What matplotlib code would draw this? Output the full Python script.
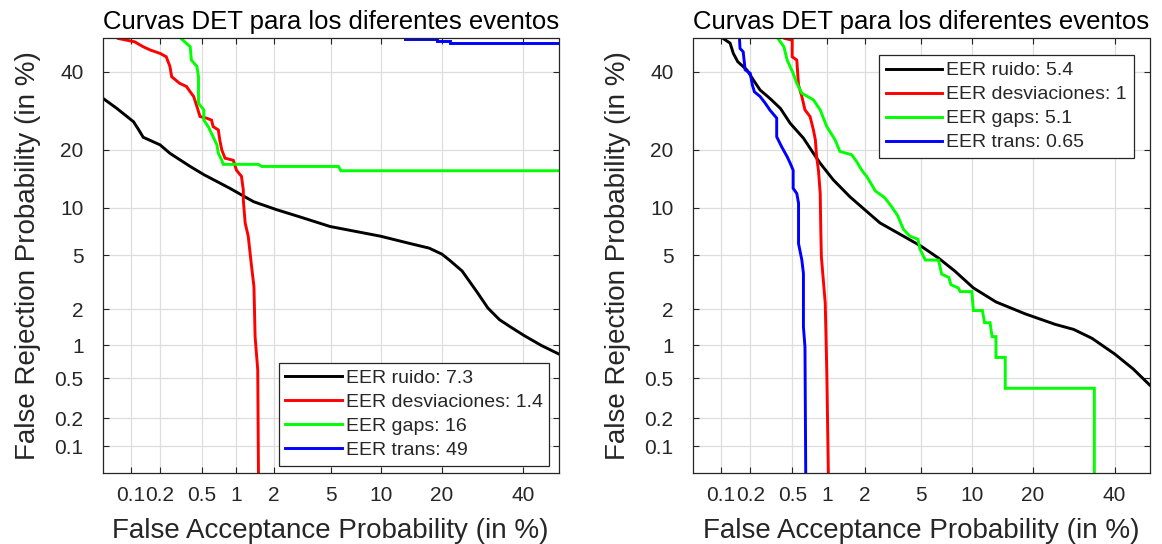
import math
import numpy as np
import matplotlib
matplotlib.use("Agg")
import matplotlib.pyplot as plt
from matplotlib.ticker import FixedLocator, FixedFormatter, NullLocator

plt.rcParams['font.family'] = ['Liberation Sans', 'DejaVu Sans']

# ---------------- data (percent) ----------------
tick_values = [0.1, 0.2, 0.5, 1, 2, 5, 10, 20, 40]
tick_labels = ['0.1', '0.2', '0.5', '1', '2', '5', '10', '20', '40']
axis_limits = [0.05, 50]

title_text = 'Curvas DET para los diferentes eventos'
xlabel_text = 'False Acceptance Probability (in %)'
ylabel_text = 'False Rejection Probability (in %)'

# Left panel
L_ruido_fa = [0.05, 0.071, 0.107, 0.12, 0.135, 0.2, 0.25, 0.39, 0.52, 0.88, 1.38, 2.1,
              3.1, 4.95, 9.9, 14.2, 17.5, 20.0, 21.7, 24.3, 27.7, 30.5, 33.5, 36.4,
              40.1, 45.0, 50]
L_ruido_fr = [32.5, 29.8, 26.4, 24.6, 22.7, 21.0, 19.2, 16.6, 15.1, 12.8, 10.8, 9.7,
              8.8, 7.7, 6.7, 6.0, 5.6, 5.1, 4.6, 3.9, 2.76, 2.05, 1.65, 1.44,
              1.22, 1.0, 0.84]

L_desv_fa = [0.074, 0.11, 0.135, 0.16, 0.2, 0.23, 0.25, 0.26, 0.31, 0.36, 0.39, 0.42,
             0.45, 0.48, 0.55, 0.61, 0.63, 0.70, 0.72, 0.75, 0.80, 0.94, 1.0, 1.1,
             1.14, 1.14, 1.18, 1.25, 1.33, 1.39, 1.42, 1.49, 1.51]
L_desv_fr = [50, 49, 47.5, 46.5, 45.5, 44.5, 41.6, 38.6, 36.7, 35.8, 34.3, 33.0,
             30.3, 27.7, 27.3, 26.8, 25.2, 24.4, 22.1, 19.9, 18.2, 17.8, 15.9, 14.8,
             12.5, 11.0, 8.1, 6.7, 4.2, 3.0, 1.19, 0.6, 0.05]

L_gaps_fa = [0.32, 0.39, 0.40, 0.45, 0.465, 0.465, 0.52, 0.52, 0.57, 0.63, 0.68, 0.70,
             0.75, 0.77, 1.51, 1.6, 5.6, 5.8, 50]
L_gaps_fr = [50, 47.5, 43.5, 41.6, 38.6, 31.2, 29.4, 26.8, 25.2, 22.8, 21.0, 19.2,
             17.8, 17.0, 17.0, 16.6, 16.6, 15.8, 15.8]

L_trans_fa = [13.4, 19.0, 19.0, 21.7, 21.7, 50]
L_trans_fr = [49.9, 49.9, 49.2, 49.2, 48.7, 48.7]

# Right panel
R_ruido_fa = [0.106, 0.125, 0.135, 0.15, 0.185, 0.22, 0.25, 0.31, 0.39, 0.48, 0.63, 0.77,
              0.88, 1.13, 1.54, 2.07, 2.6, 3.8, 5.0, 6.4, 8.0, 10.2, 13.4, 18.5, 24.8,
              29.2, 33.9, 40, 45.3, 50]
R_ruido_fr = [50, 48.6, 45.5, 43.0, 40.6, 37.2, 34.8, 32.5, 29.8, 26.0, 22.5, 19.2,
              17.2, 14.2, 11.5, 9.5, 8.1, 6.7, 5.75, 4.8, 3.9, 2.93, 2.29, 1.84, 1.51,
              1.37, 1.15, 0.84, 0.61, 0.43]

R_desv_fa = [0.43, 0.50, 0.50, 0.55, 0.57, 0.61, 0.65, 0.72, 0.77, 0.80, 0.82, 0.85,
             0.88, 0.89, 0.90, 0.97, 1.0, 1.03]
R_desv_fr = [50, 49.5, 44.5, 43.5, 36.2, 33.0, 29.4, 27.7, 24.4, 22.1, 18.5, 15.9,
             12.0, 7.3, 4.9, 2.24, 0.56, 0.05]

R_gaps_fa = [0.37, 0.42, 0.45, 0.51, 0.55, 0.61, 0.77, 0.88, 1.0, 1.17, 1.28, 1.59, 1.74,
             1.9, 2.07, 2.3, 2.4, 2.8, 3.07, 3.46, 3.8, 4.2, 4.75, 4.9, 5.3, 6.4, 6.7,
             7.4, 7.6, 8.4, 8.6, 10.0, 10.2, 11.4, 11.7, 12.5, 12.8, 13.4, 13.4, 14.9,
             14.9, 34.5, 34.5]
R_gaps_fr = [50, 47.5, 43.5, 39.6, 36.7, 33.9, 32.1, 29.4, 25.2, 22.1, 19.6, 18.9, 17.5,
             15.9, 14.8, 13.1, 12.4, 11.4, 10.4, 9.0, 7.4, 6.7, 6.4, 5.5, 4.65, 4.65, 3.7,
             3.5, 3.1, 2.93, 2.75, 2.75, 1.96, 1.96, 1.56, 1.56, 1.19, 1.19, 0.78, 0.78,
             0.40, 0.40, 0.05]

R_trans_fa = [0.156, 0.158, 0.17, 0.178, 0.2, 0.21, 0.22, 0.25, 0.28, 0.31, 0.36, 0.36,
              0.40, 0.45, 0.48, 0.51, 0.51, 0.55, 0.57, 0.57, 0.61, 0.63, 0.63, 0.65, 0.66]
R_trans_fr = [50, 47.0, 46.0, 40.6, 39.6, 36.2, 34.3, 33.0, 31.2, 29.4, 27.3, 22.8,
              20.6, 18.5, 17.2, 15.9, 12.8, 12.0, 10.6, 6.0, 4.65, 3.75, 1.44, 0.97, 0.05]

left_labels = ['EER ruido: 7.3', 'EER desviaciones: 1.4', 'EER gaps: 16', 'EER trans: 49']
right_labels = ['EER ruido: 5.4', 'EER desviaciones: 1', 'EER gaps: 5.1', 'EER trans: 0.65']
series_colors = ['#000000', '#ff0000', '#00ff00', '#0000ff']

# ---------------- normal-deviate (probit) scale ----------------
_a = [-3.969683028665376e+01, 2.209460984245205e+02, -2.759285104469687e+02,
      1.383577518672690e+02, -3.066479806614716e+01, 2.506628277459239e+00]
_b = [-5.447609879822406e+01, 1.615858368580409e+02, -1.556989798598866e+02,
      6.680131188771972e+01, -1.328068155288572e+01]
_c = [-7.784894002430293e-03, -3.223964580411365e-01, -2.400758277161838e+00,
      -2.549732539343734e+00, 4.374664141464968e+00, 2.938163982698783e+00]
_d = [7.784695709041462e-03, 3.224671290700398e-01, 2.445134137142996e+00,
      3.754408661907416e+00]


def _ppf(p):
    p = np.clip(np.asarray(p, dtype=float), 1e-12, 1 - 1e-12)
    shape = p.shape
    p = np.atleast_1d(p).ravel()
    z = np.empty_like(p)
    plow = 0.02425
    lo = p < plow
    hi = p > 1 - plow
    mid = ~(lo | hi)
    if lo.any():
        q = np.sqrt(-2 * np.log(p[lo]))
        z[lo] = (((((_c[0]*q+_c[1])*q+_c[2])*q+_c[3])*q+_c[4])*q+_c[5]) / \
                ((((_d[0]*q+_d[1])*q+_d[2])*q+_d[3])*q+1)
    if hi.any():
        q = np.sqrt(-2 * np.log(1 - p[hi]))
        z[hi] = -(((((_c[0]*q+_c[1])*q+_c[2])*q+_c[3])*q+_c[4])*q+_c[5]) / \
                ((((_d[0]*q+_d[1])*q+_d[2])*q+_d[3])*q+1)
    if mid.any():
        q = p[mid] - 0.5
        r = q * q
        z[mid] = (((((_a[0]*r+_a[1])*r+_a[2])*r+_a[3])*r+_a[4])*r+_a[5])*q / \
                 (((((_b[0]*r+_b[1])*r+_b[2])*r+_b[3])*r+_b[4])*r+1)
    return z.reshape(shape)


_erfc = np.vectorize(math.erfc)


def fwd(x):
    return _ppf(np.asarray(x, dtype=float) / 100.0)


def inv(z):
    z = np.asarray(z, dtype=float)
    return 100.0 * 0.5 * _erfc(-z / math.sqrt(2.0))


# ---------------- figure ----------------
W, H = 1162, 544
fig = plt.figure(figsize=(W / 100, H / 100), dpi=100)
ax_bottom = 1 - 472.5 / H
ax_h = 434 / H
ax1 = fig.add_axes([103 / W, ax_bottom, 455.5 / W, ax_h])
ax2 = fig.add_axes([693 / W, ax_bottom, 456.7 / W, ax_h])

txt_color = '#262626'

panels = [
    (ax1, [(L_ruido_fa, L_ruido_fr), (L_desv_fa, L_desv_fr), (L_gaps_fa, L_gaps_fr),
           (L_trans_fa, L_trans_fr)], left_labels),
    (ax2, [(R_ruido_fa, R_ruido_fr), (R_desv_fa, R_desv_fr), (R_gaps_fa, R_gaps_fr),
           (R_trans_fa, R_trans_fr)], right_labels),
]

for ax, series, labels in panels:
    ax.set_xscale('function', functions=(fwd, inv))
    ax.set_yscale('function', functions=(fwd, inv))
    ax.set_xlim(axis_limits)
    ax.set_ylim(axis_limits)
    for (fa, fr), lab, col in zip(series, labels, series_colors):
        ax.plot(fa, fr, color=col, lw=2.1, label=lab, solid_joinstyle='miter')
    for axis in (ax.xaxis, ax.yaxis):
        axis.set_major_locator(FixedLocator(tick_values))
        axis.set_major_formatter(FixedFormatter(tick_labels))
        axis.set_minor_locator(NullLocator())
    ax.grid(True, color='#dedede', lw=0.9)
    ax.set_axisbelow(True)
    ax.tick_params(axis='both', direction='in', top=True, right=True, length=4,
                   width=0.8, color=txt_color, labelcolor=txt_color, labelsize=15)
    ax.tick_params(axis='x', pad=10)
    ax.tick_params(axis='y', pad=14)
    for sp in ax.spines.values():
        sp.set_color(txt_color)
        sp.set_linewidth(0.9)
    ax.set_title(title_text, fontsize=18.5, color='#000000', pad=7)
    ax.set_xlabel(xlabel_text, fontsize=20, color=txt_color, labelpad=9)
    ax.set_ylabel(ylabel_text, fontsize=20, color=txt_color, labelpad=10)

leg_kw = dict(fontsize=14, frameon=True, fancybox=False, framealpha=1,
              edgecolor=txt_color, borderaxespad=0, handlelength=2.9,
              handletextpad=0.2, borderpad=0.35, labelspacing=0.33)
lg1 = ax1.legend(loc='lower right', bbox_to_anchor=(0.980, 0.015), **leg_kw)
lg2 = ax2.legend(loc='upper right', bbox_to_anchor=(0.965, 0.962), **leg_kw)
for lg in (lg1, lg2):
    lg.get_frame().set_linewidth(0.9)
    for t in lg.get_texts():
        t.set_color(txt_color)

fig.savefig('out.png', dpi=100)
